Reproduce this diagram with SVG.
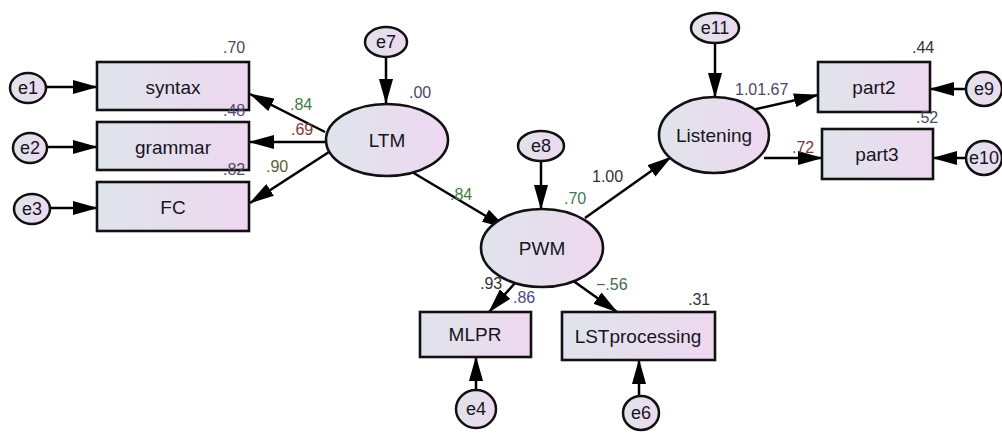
<svg xmlns="http://www.w3.org/2000/svg" width="1002" height="438" viewBox="0 0 1002 438">
  <defs>
    <linearGradient id="fillGrad" x1="0" y1="0" x2="1" y2="0">
      <stop offset="0" stop-color="#dfe4ea"/>
      <stop offset="1" stop-color="#eed8f0"/>
    </linearGradient>
    <marker id="arrow" viewBox="0 0 25 14" refX="24" refY="7" markerWidth="25" markerHeight="14" markerUnits="userSpaceOnUse" orient="auto">
      <path d="M0,0 L25,7 L0,14 z" fill="#000"/>
    </marker>
    <style>
      .box { fill: url(#fillGrad); stroke: #111; stroke-width: 2.6; }
      .ell { fill: url(#fillGrad); stroke: #111; stroke-width: 2.6; }
      .err { fill: url(#fillGrad); stroke: #111; stroke-width: 2.5; }
      .name { font-family: "Liberation Sans", Arial, sans-serif; font-size: 19px; fill: #15151f; text-anchor: middle; }
      .ename { font-family: "Liberation Sans", Arial, sans-serif; font-size: 18px; fill: #15151f; text-anchor: middle; }
      .val { font-family: "Liberation Sans", Arial, sans-serif; font-size: 16px; fill: #4a4a62; }
      .edge { stroke: #000; stroke-width: 2.5; fill: none; marker-end: url(#arrow); }
    </style>
  </defs>
  <rect width="1002" height="438" fill="#fff"/>

  <!-- connectors -->
  <g id="connectors">
    <path class="edge" d="M47,87 L97,87"/>
    <path class="edge" d="M48,147 L97,147"/>
    <path class="edge" d="M50,208 L97,208"/>
    <path class="edge" d="M386,57 L386,103"/>
    <path class="edge" d="M325,132 L250,94"/>
    <path class="edge" d="M326,142 L250,142"/>
    <path class="edge" d="M329,152 L250,203"/>
    <path class="edge" d="M412,172 L506,228"/>
    <path class="edge" d="M541,160 L541,209"/>
    <path class="edge" d="M585,218 L671,157"/>
    <path class="edge" d="M515,283 L489,312"/>
    <path class="edge" d="M572,280 L617,312"/>
    <path class="edge" d="M476,390 L476,357"/>
    <path class="edge" d="M639,396 L639,360"/>
    <path class="edge" d="M715,42 L715,97"/>
    <path class="edge" d="M752,110 L818,95"/>
    <path class="edge" d="M764,158 L822,158"/>
    <path class="edge" d="M966,89 L930,89"/>
    <path class="edge" d="M965,158 L933,158"/>
  </g>

  <!-- observed variables -->
  <g id="syntax"><rect class="box" x="97" y="62" width="152" height="48"/><text class="name" x="173" y="94">syntax</text></g>
  <g id="grammar"><rect class="box" x="97" y="122" width="152" height="48"/><text class="name" x="173" y="154">grammar</text></g>
  <g id="FC"><rect class="box" x="97" y="182" width="152" height="49"/><text class="name" x="173" y="214">FC</text></g>
  <g id="MLPR"><rect class="box" x="420" y="312" width="111" height="45"/><text class="name" x="475" y="341">MLPR</text></g>
  <g id="LSTprocessing"><rect class="box" x="562" y="312" width="153" height="48"/><text class="name" x="638" y="343">LSTprocessing</text></g>
  <g id="part2"><rect class="box" x="818" y="62" width="112" height="50"/><text class="name" x="874" y="94">part2</text></g>
  <g id="part3"><rect class="box" x="822" y="129" width="111" height="50"/><text class="name" x="877" y="161">part3</text></g>

  <!-- latent variables -->
  <g id="LTM"><ellipse class="ell" cx="387" cy="140" rx="61" ry="36"/><text class="name" x="387" y="147">LTM</text></g>
  <g id="PWM"><ellipse class="ell" cx="542" cy="248" rx="61" ry="39"/><text class="name" x="542" y="255">PWM</text></g>
  <g id="Listening"><ellipse class="ell" cx="714" cy="135" rx="55" ry="38"/><text class="name" x="714" y="142">Listening</text></g>

  <!-- error terms -->
  <g id="e1"><ellipse class="err" cx="28" cy="88" rx="18" ry="15"/><text class="ename" x="28" y="94">e1</text></g>
  <g id="e2"><ellipse class="err" cx="30" cy="148" rx="17" ry="15"/><text class="ename" x="30" y="154">e2</text></g>
  <g id="e3"><ellipse class="err" cx="32" cy="209" rx="18" ry="15"/><text class="ename" x="32" y="215">e3</text></g>
  <g id="e7"><ellipse class="err" cx="386" cy="42" rx="21" ry="15"/><text class="ename" x="386" y="48">e7</text></g>
  <g id="e8"><ellipse class="err" cx="541" cy="146" rx="23" ry="15"/><text class="ename" x="541" y="152">e8</text></g>
  <g id="e11"><ellipse class="err" cx="715" cy="28" rx="24" ry="15"/><text class="ename" x="715" y="34">e11</text></g>
  <g id="e9"><ellipse class="err" cx="984" cy="89" rx="18" ry="17"/><text class="ename" x="984" y="95">e9</text></g>
  <g id="e10"><ellipse class="err" cx="984" cy="158" rx="18" ry="17"/><text class="ename" x="984" y="164">e10</text></g>
  <g id="e4"><ellipse class="err" cx="476" cy="409" rx="20" ry="19"/><text class="ename" x="476" y="415">e4</text></g>
  <g id="e6"><ellipse class="err" cx="641" cy="413" rx="18" ry="17"/><text class="ename" x="641" y="419">e6</text></g>

  <!-- estimates -->
  <g id="estimates">
    <text class="val" x="223" y="53">.70</text>
    <text class="val" x="223" y="116" style="fill:#5a4a72">.48</text>
    <text class="val" x="223" y="175">.82</text>
    <text class="val" x="290" y="110" style="fill:#3f7a44">.84</text>
    <text class="val" x="291" y="135" style="fill:#7a3a3a">.69</text>
    <text class="val" x="266" y="172" style="fill:#5e5e30">.90</text>
    <text class="val" x="409" y="98">.00</text>
    <text class="val" x="450" y="200" style="fill:#3f7a44">.84</text>
    <text class="val" x="592" y="182" style="fill:#333">1.00</text>
    <text class="val" x="564" y="204" style="fill:#3f7a5a">.70</text>
    <text class="val" x="480" y="289" style="fill:#333">.93</text>
    <text class="val" x="513" y="303" style="fill:#4a4a80">.86</text>
    <text class="val" x="596" y="290" style="fill:#3f6a50">−.56</text>
    <text class="val" x="688" y="305" style="fill:#333">.31</text>
    <text class="val" x="735" y="95">1.01.67</text>
    <text class="val" x="912" y="53" style="fill:#333">.44</text>
    <text class="val" x="916" y="123">.52</text>
    <text class="val" x="792" y="153" style="fill:#7a3a3a">.72</text>
  </g>
</svg>
